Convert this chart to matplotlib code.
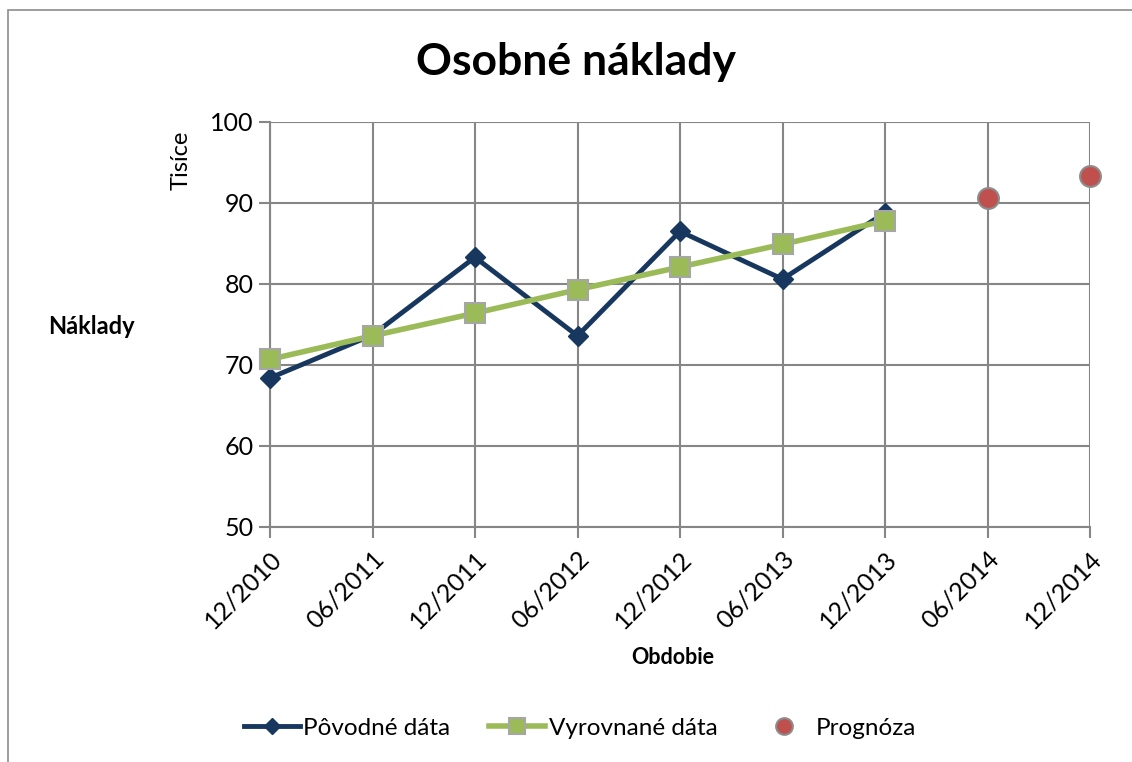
import matplotlib.pyplot as plt
from matplotlib.patches import Rectangle

plt.rcParams['font.family'] = ['Lato', 'DejaVu Sans']

# Data (thousands)
periods = ['12/2010', '06/2011', '12/2011', '06/2012', '12/2012',
           '06/2013', '12/2013', '06/2014', '12/2014']
original = [68.4, 73.7, 83.3, 73.6, 86.5, 80.6, 88.8]
smoothed = [70.7, 73.6, 76.4, 79.3, 82.1, 84.9, 87.8]
forecast = [90.6, 93.3]

navy = '#17375E'
green = '#9BBB59'
red = '#C0504D'
grid_gray = '#868686'

fig = plt.figure(figsize=(11.32, 7.62), dpi=100)
ax = fig.add_axes([270 / 1132, 1 - 527 / 762, 820 / 1132, 405 / 762])

x = list(range(len(periods)))

ax.plot(x[:len(original)], original, color=navy, lw=3.5, marker='D', ms=10,
        mfc=navy, mec=navy, label='Pôvodné dáta', zorder=3, clip_on=False)
ax.plot(x[:len(smoothed)], smoothed, color=green, lw=4, marker='s', ms=15,
        mfc=green, mec='#A6A6A6', mew=1.5, label='Vyrovnané dáta', zorder=4,
        clip_on=False)
ax.plot(x[len(original):], forecast, ls='none', marker='o', ms=15,
        mfc=red, mec='#8C8C8C', mew=1.5, label='Prognóza', zorder=5,
        clip_on=False)

ax.set_xlim(0, len(periods) - 1)
ax.set_ylim(50, 100)
ax.set_yticks(range(50, 101, 10))
ax.set_xticks(x)
ax.set_xticklabels(periods, rotation=45, ha='right', rotation_mode='anchor')
ax.tick_params(axis='both', labelsize=18, length=8, width=1.5, color=grid_gray,
               pad=4)
ax.tick_params(axis='x', pad=6)
ax.grid(True, color=grid_gray, lw=1.5)
ax.set_axisbelow(True)
for s in ax.spines.values():
    s.set_visible(False)
ax.spines['left'].set_visible(True)
ax.spines['left'].set_color(grid_gray)
ax.spines['left'].set_linewidth(1.5)
ax.spines['bottom'].set_visible(True)
ax.spines['bottom'].set_color(grid_gray)
ax.spines['bottom'].set_linewidth(1.5)

# labels
fig.text(576 / 1132, 1 - 62 / 762, 'Osobné náklady', fontsize=32,
         fontweight='bold', ha='center', va='center')
fig.text(91 / 1132, 1 - 327 / 762, 'Náklady', fontsize=17, fontweight='bold',
         ha='center', va='center')
fig.text(181 / 1132, 1 - 160 / 762, 'Tisíce', fontsize=17, rotation=90,
         ha='center', va='center')
fig.text(673 / 1132, 1 - 657 / 762, 'Obdobie', fontsize=15.5,
         fontweight='bold', ha='center', va='center')

fig.legend(loc='center', bbox_to_anchor=(580 / 1132, 1 - 728 / 762), ncol=3,
           frameon=False, fontsize=17.5, handlelength=2.3, handletextpad=0.15,
           columnspacing=1.6, markerscale=0.8)

# outer chart border
fig.patches.append(Rectangle((8 / 1132, -0.01), 1.1, 1 - 10 / 762 + 0.01,
                             transform=fig.transFigure, fill=False,
                             ec='#8C8C8C', lw=1.2))

fig.savefig('out.png', dpi=100)
